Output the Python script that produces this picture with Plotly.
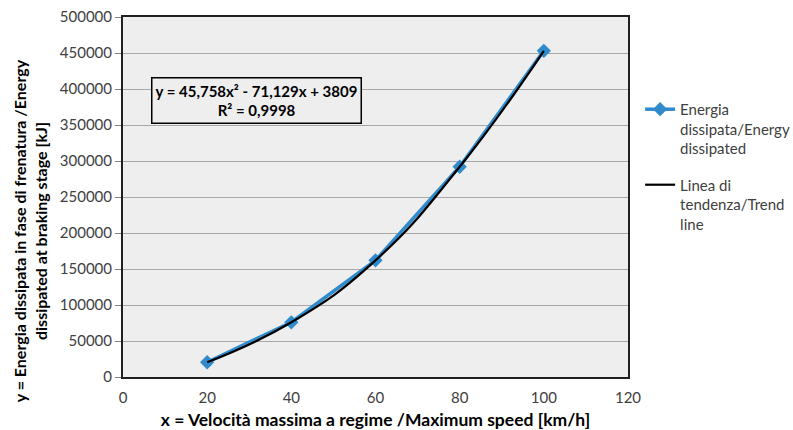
import plotly.graph_objects as go

speed = [20, 40, 60, 80, 100]
energy = [20500, 76000, 162000, 292000, 453000]
series_name = "Energia<br>dissipata/Energy<br>dissipated"
trend_name = "Linea di<br>tendenza/Trend<br>line"
equation = "y = 45,758x² - 71,129x + 3809<br>R² = 0,9998"
y_title = "y = Energia dissipata in fase di frenatura /Energy<br>dissipated at braking stage [kJ]"
x_title = "x = Velocità massima a regime /Maximum speed [km/h]"
x_ticks = [0, 20, 40, 60, 80, 100, 120]
y_ticks = [0, 50000, 100000, 150000, 200000, 250000, 300000, 350000, 400000, 450000, 500000]
y_labels = [str(v) for v in y_ticks]

FONT = "Lato"

fig = go.Figure()
fig.add_trace(go.Scatter(
    x=speed, y=energy, name=series_name, mode="lines+markers", legendgroup="data",
    line=dict(color="#2F8BCB", width=3.5),
    marker=dict(symbol="diamond", size=11, color="#2F8BCB"),
))
fig.add_trace(go.Scatter(
    x=speed, y=energy, name=trend_name, mode="lines", legendgroup="trend",
    line=dict(color="#000000", width=2.2, shape="spline", smoothing=1.3),
))

fig.add_annotation(
    x=31.8, y=384000, xref="x", yref="y", text=equation, showarrow=False,
    font=dict(family=FONT, size=15, color="#000000", weight="bold"),
    bordercolor="#000000", borderwidth=1.5, borderpad=3, bgcolor="#EEEEEE",
    align="center",
)
fig.add_annotation(
    x=-0.184, y=0.405, xref="paper", yref="paper", text=y_title, showarrow=False,
    textangle=-90, xanchor="center", yanchor="middle", align="center",
    font=dict(family=FONT, size=16, color="#000000", weight="bold"),
)

fig.update_layout(
    width=793, height=430,
    margin=dict(l=123, r=165, t=17, b=53, autoexpand=False),
    paper_bgcolor="white", plot_bgcolor="#EEEEEE",
    font=dict(family=FONT, size=15, color="#404040"),
    showlegend=True,
    legend=dict(x=1.024, y=0.789, xanchor="left", yanchor="top", valign="top",
                traceorder="grouped",
                font=dict(family=FONT, size=15, color="#404040"),
                tracegroupgap=14, bgcolor="rgba(0,0,0,0)"),
    xaxis=dict(range=[0, 120], tickvals=x_ticks, showgrid=False, zeroline=False,
               showline=True, linecolor="#202020", linewidth=2, mirror=True,
               ticks="", ticklabelstandoff=6,
               tickfont=dict(size=15, color="#404040"), automargin=False,
               title=dict(text=x_title,
                          font=dict(family=FONT, size=17.5, color="#000000", weight="bold"),
                          standoff=14)),
    yaxis=dict(range=[0, 500000], tickvals=y_ticks, ticktext=y_labels,
               showgrid=True, gridcolor="#A8A8A8", automargin=False,
               gridwidth=1, zeroline=False,
               showline=True, linecolor="#202020", linewidth=2, mirror=True,
               ticks="outside", ticklen=6, tickcolor="#808080",
               tickfont=dict(size=15, color="#404040")),
)

fig.write_html("out.html", config={"displayModeBar": False},
               post_script="document.body.style.margin='0';document.body.style.overflow='hidden';")
